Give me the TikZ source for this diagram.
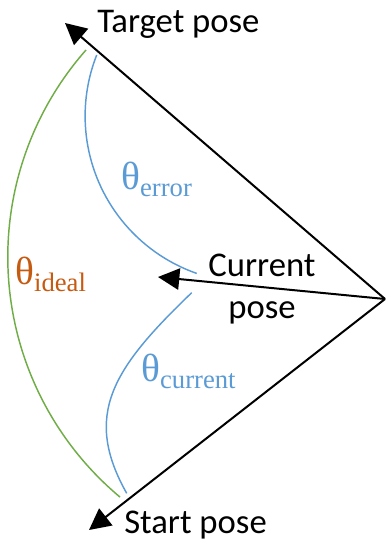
\documentclass[tikz,border=0pt]{standalone}
\usepackage{fontspec}
\setmainfont{Carlito}
\newfontfamily\thetafont{Liberation Serif}
\usetikzlibrary{arrows.meta}
\definecolor{arcblue}{HTML}{5B9BD5}
\definecolor{arcgreen}{HTML}{70AD47}
\definecolor{thetaorange}{HTML}{C55A11}
\tikzset{
  posearrow/.style={line width=1.5pt,-{Triangle[length=16pt,width=16pt]}},
  posetext/.style={inner sep=0pt,font=\fontsize{26}{31.5}\selectfont},
  anglelabel/.style={inner sep=0pt,anchor=base west,font=\thetafont\fontsize{29.5}{34}\selectfont},
  arcline/.style={line width=1.1pt},
}
\newcommand{\thsub}[1]{\raisebox{-5.5pt}{\fontsize{20}{24}\selectfont #1}}
\begin{document}
\begin{tikzpicture}[x=0.75pt,y=-0.75pt]
\useasboundingbox (0,0) rectangle (386,542);
\coordinate (O) at (385,299);
\coordinate (target) at (65,23);
\coordinate (current) at (158,277);
\coordinate (start) at (89,530);
% arcs
\draw[arcline,arcgreen] (86,50) arc[start angle=221.4, end angle=129.9, radius=313];
\draw[arcline,arcblue] (96.7,55) arc[start angle=201.5, end angle=109.3, radius=166.7];
\draw[arcline,arcblue] (191.7,292.7) .. controls (112.5,368.6) and (82.6,415) .. (126.7,493.3);
% arrows
\draw[posearrow] (O) -- (target);
\draw[posearrow] (O) -- (current);
\draw[posearrow] (O) -- (start);
% labels
\node[posetext,anchor=base west] (ltarget) at (97,33) {Target pose};
\node[posetext,anchor=north,align=center] (lcurrent) at (262,254) {Current\\pose};
\node[posetext,anchor=base west] (lstart) at (124,533) {Start pose};
\node[anglelabel,text=arcblue] (lerror) at (121,189) {θ\thsub{error}};
\node[anglelabel,text=thetaorange] (lideal) at (15,284) {θ\thsub{ideal}};
\node[anglelabel,text=arcblue] (lcur) at (141,381) {θ\thsub{current}};
\end{tikzpicture}
\end{document}
